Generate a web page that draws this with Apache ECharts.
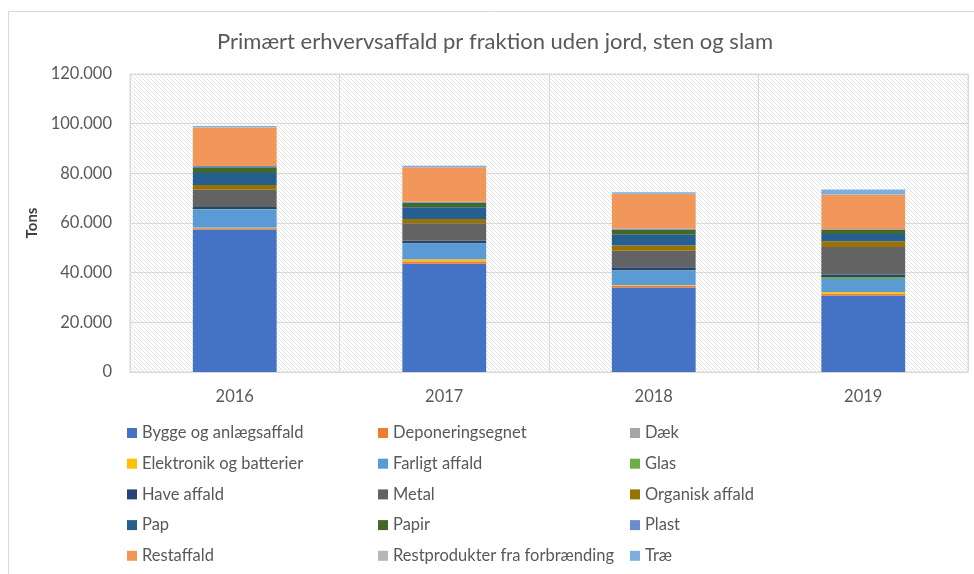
<!DOCTYPE html>
<html>
<head>
<meta charset="utf-8">
<script src="https://cdn.jsdelivr.net/npm/echarts@6/dist/echarts.min.js"></script>
<style>html,body{margin:0;padding:0;background:#fff}#c{width:974px;height:574px}</style>
</head>
<body>
<div id="c"></div>
<script>
const categories = ['2016', '2017', '2018', '2019'];
const seriesNames = ['Bygge og anlægsaffald', 'Deponeringsegnet', 'Dæk', 'Elektronik og batterier', 'Farligt affald', 'Glas', 'Have affald', 'Metal', 'Organisk affald', 'Pap', 'Papir', 'Plast', 'Restaffald', 'Restprodukter fra forbrænding', 'Træ'];
const bygge = [57400, 43600, 34000, 30800];
const deponering = [500, 900, 700, 700];
const daek = [100, 100, 100, 100];
const elektronik = [200, 800, 200, 600];
const farligt = [7300, 6300, 5900, 5200];
const glas = [100, 100, 100, 900];
const have = [800, 1100, 1200, 1000];
const metal = [7000, 7000, 6600, 11000];
const organisk = [1900, 1700, 2100, 2400];
const pap = [4800, 4700, 4400, 2900];
const papir = [2300, 1900, 2000, 1600];
const plast = [600, 400, 400, 300];
const restaffald = [15500, 13800, 14000, 13900];
const restprodukter = [100, 100, 100, 100];
const trae = [500, 600, 600, 2000];
const yTicks = [0, 20000, 40000, 60000, 80000, 100000, 120000];

const values = [bygge, deponering, daek, elektronik, farligt, glas, have, metal, organisk, pap, papir, plast, restaffald, restprodukter, trae];
const colors = ['#4472C4', '#ED7D31', '#A5A5A5', '#FFC000', '#5B9BD5', '#70AD47', '#264478', '#636363', '#997300', '#255E91', '#43682B', '#698ED0', '#F1975A', '#B7B7B7', '#7CAFDD'];

// hatch pattern
const pc = document.createElement('canvas');
pc.width = 4; pc.height = 4;
const pctx = pc.getContext('2d');
pctx.fillStyle = '#ffffff';
pctx.fillRect(0, 0, 4, 4);
pctx.strokeStyle = '#e2e2e2';
pctx.lineWidth = 1;
pctx.beginPath();
pctx.moveTo(-1, -1); pctx.lineTo(5, 5);
pctx.moveTo(-1, 3); pctx.lineTo(1, 5);
pctx.moveTo(3, -1); pctx.lineTo(5, 1);
pctx.stroke();

const fmt = v => String(v).replace(/\B(?=(\d{3})+(?!\d))/g, '.');
const font = 'Lato, "Liberation Sans", sans-serif';

const chart = echarts.init(document.getElementById('c'), null, {renderer: 'canvas'});
const legendCols = [[0, 3, 6, 9, 12], [1, 4, 7, 10, 13], [2, 5, 8, 11, 14]];
const legendLefts = [127, 378, 630];
chart.setOption({
  animation: false,
  backgroundColor: '#fff',
  color: colors,
  title: {
    text: 'Primært erhvervsaffald pr fraktion uden jord, sten og slam',
    left: 212, top: 26,
    textStyle: {fontFamily: font, fontSize: 22, fontWeight: 'normal', color: '#595959'}
  },
  graphic: [{
    type: 'rect', silent: true,
    shape: {x: 8.5, y: 11.5, width: 1000, height: 700},
    style: {fill: null, stroke: '#d9d9d9', lineWidth: 1}
  }],
  legend: legendCols.map((col, i) => ({
    orient: 'vertical',
    left: legendLefts[i], top: 423, padding: 0, height: 160,
    itemWidth: 10, itemHeight: 10, itemGap: 10.7,
    icon: 'rect', selectedMode: false,
    textStyle: {fontFamily: font, fontSize: 16.5, color: '#595959', lineHeight: 20},
    data: col.map(k => seriesNames[k])
  })),
  grid: {
    left: 130, right: 6, top: 74, bottom: 202,
    show: true,
    backgroundColor: {image: pc, repeat: 'repeat'},
    borderColor: '#d9d9d9', borderWidth: 1
  },
  xAxis: {
    type: 'category', data: categories,
    axisLine: {lineStyle: {color: '#d9d9d9'}},
    axisTick: {show: false},
    splitLine: {show: true, lineStyle: {color: '#d9d9d9'}},
    axisLabel: {fontFamily: font, fontSize: 16.5, color: '#595959', margin: 16}
  },
  yAxis: {
    type: 'value', min: 0, max: 120000, interval: 20000,
    name: 'Tons', nameLocation: 'middle', nameGap: 77, nameRotate: 90,
    nameTextStyle: {fontFamily: font, fontSize: 15, fontWeight: 'bold', color: '#404040'},
    axisLine: {show: false}, axisTick: {show: false},
    splitLine: {lineStyle: {color: '#d9d9d9'}},
    axisLabel: {fontFamily: font, fontSize: 16.5, color: '#595959', margin: 18,
      formatter: v => yTicks.includes(v) ? fmt(v) : ''}
  },
  series: seriesNames.map((n, i) => ({
    name: n, type: 'bar', stack: 'total', barWidth: '40%',
    data: values[i],
    itemStyle: {color: colors[i]}
  }))
});
</script>
</body>
</html>
